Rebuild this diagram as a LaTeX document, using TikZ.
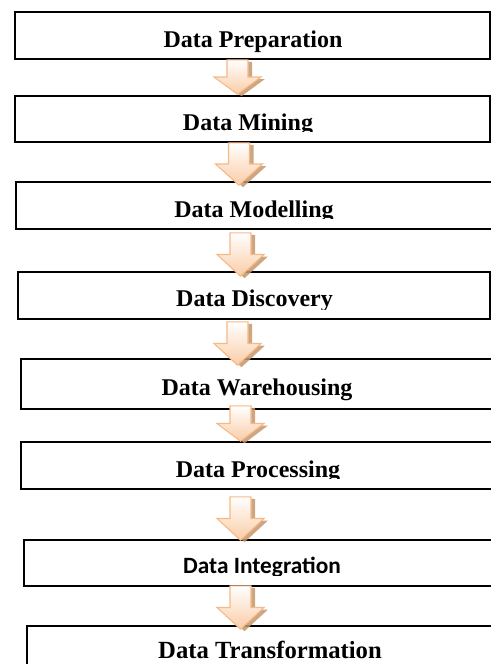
\documentclass[tikz,border=0pt]{standalone}
\usepackage{fontspec}
\setmainfont{Liberation Serif}
\newfontfamily\calibrifont{Carlito}
\usetikzlibrary{calc,fit}

\definecolor{arrowline}{RGB}{247,184,134}
\definecolor{arrowfill}{RGB}{250,204,166}
\definecolor{arrowshade}{RGB}{196,150,108}

\tikzset{
  stage/.style={draw=black, line width=1.2pt, fill=white, inner sep=0pt, rectangle},
  lbl/.style={anchor=base, inner sep=0pt, font=\bfseries\fontsize{18}{20}\selectfont},
  arrowbody/.style={draw=arrowline, line width=0.8pt, top color=white,
                    bottom color=arrowfill, line join=miter},
  arrowshadow/.style={fill=arrowshade, fill opacity=0.85},
}

% outline of a block arrow from (t) to (p), head starting at (h), shifted by #1,#2
\newcommand\arrowshape[2]{%
  ($(t)+(-7.875pt+#1,#2)$) -- ($(t)+(7.875pt+#1,#2)$) --
  ($(h)+(7.875pt+#1,#2)$) -- ($(h)+(17.625pt+#1,#2)$) --
  ($(p)+(#1,#2)$) --
  ($(h)+(-17.625pt+#1,#2)$) -- ($(h)+(-7.875pt+#1,#2)$) -- cycle}

% block arrow at x=#1 from stage #2 down to stage #3; #4, #5 shift tail and tip (px, downward)
\newcommand\flowarrow[5]{%
  \coordinate (ax) at (#1,0);
  \path let \p1=(#2.south -| ax), \p2=(#3.north -| ax),
            \n1={\y1-(#4)*0.75pt}, \n2={\y2-(#5)*0.75pt},
            \n3={min(35.25pt,\n1-\n2)/2}
        in coordinate (t) at (\x1,\n1)
           coordinate (h) at (\x1,\n2+\n3)
           coordinate (p) at (\x1,\n2);
  \fill[arrowshadow] \arrowshape{3pt}{-1.5pt};
  \path[arrowbody] \arrowshape{0pt}{0pt};
}

\begin{document}
\begin{tikzpicture}[x=0.75pt,y=-0.75pt]
  \useasboundingbox (0,0) rectangle (491,664);
  \clip (0,0) rectangle (491,664);

  % stage boxes (several run past the right edge of the page)
  \node[stage, fit={(15,12) (490,59)}]   (b1) {};
  \node[stage, fit={(15,96) (490,142)}]  (b2) {};
  \node[stage, fit={(16,182) (496,229)}] (b3) {};
  \node[stage, fit={(18,272) (490,319)}] (b4) {};
  \node[stage, fit={(21,359) (497,409)}] (b5) {};
  \node[stage, fit={(21,442) (498,489)}] (b6) {};
  \node[stage, fit={(24,540) (502,586)}] (b7) {};
  \node[stage, fit={(27,626) (513,676)}] (b8) {};

  % labels (some are cut off at the bottom of their text frame)
  \node[lbl] (l1) at (253,47) {Data Preparation};
  \begin{scope}
    \clip (0,0) rectangle (491,131);
    \node[lbl] (l2) at (248,130) {Data Mining};
  \end{scope}
  \begin{scope}
    \clip (0,150) rectangle (491,218);
    \node[lbl] (l3) at (254,217) {Data Modelling};
  \end{scope}
  \begin{scope}
    \clip (0,250) rectangle (491,309);
    \node[lbl] (l4) at (254.5,306) {Data Discovery};
  \end{scope}
  \node[lbl] (l5) at (257,395) {Data Warehousing};
  \begin{scope}
    \clip (0,420) rectangle (491,478);
    \node[lbl] (l6) at (258,477) {Data Processing};
  \end{scope}
  \begin{scope}
    \clip (0,520) rectangle (491,575);
    \node[lbl, font=\calibrifont\bfseries\fontsize{17.5}{20}\selectfont] (l7) at (262,573) {Data Integration};
  \end{scope}
  \node[lbl, font=\bfseries\fontsize{18.5}{20}\selectfont] (l8) at (270,658) {Data Transformation};

  % connecting block arrows
  \flowarrow{237.5}{b1}{b2}{0}{-1}
  \flowarrow{239}{b2}{b3}{0}{4}
  \flowarrow{240.5}{b3}{b4}{3}{5}
  \flowarrow{237.5}{b4}{b5}{2}{7}
  \flowarrow{240.5}{b5}{b6}{-4}{0}
  \flowarrow{240.5}{b6}{b7}{7}{1}
  \flowarrow{240.5}{b7}{b8}{-1}{4}
\end{tikzpicture}
\end{document}
